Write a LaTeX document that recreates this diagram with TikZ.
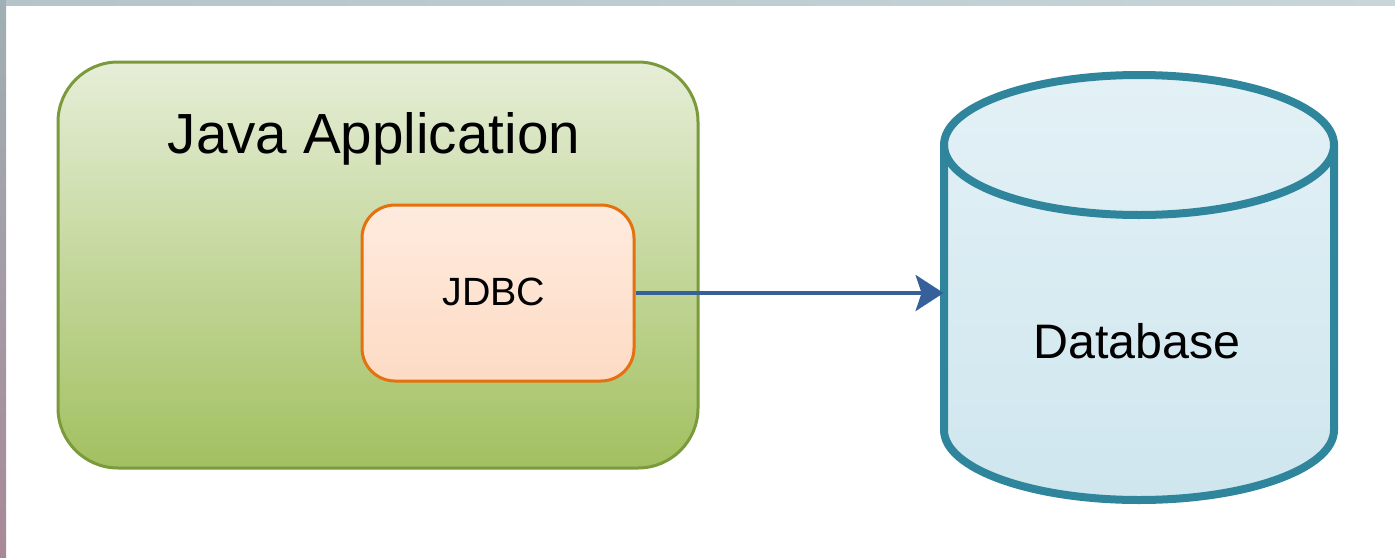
\documentclass[tikz,border=0pt]{standalone}
\usepackage{fontspec}
\setmainfont{Liberation Sans}
\usetikzlibrary{arrows.meta}
\definecolor{appborder}{HTML}{7A9A3C}
\definecolor{apptop}{HTML}{E6EED8}
\definecolor{appbot}{HTML}{A2C060}
\definecolor{jdbcborder}{HTML}{E4700E}
\definecolor{jdbctop}{HTML}{FEEBDE}
\definecolor{jdbcbot}{HTML}{FDDBC4}
\definecolor{dbborder}{HTML}{2F869C}
\definecolor{dbtop}{HTML}{E3F1F6}
\definecolor{dbbot}{HTML}{CFE6EE}
\definecolor{arrowcol}{HTML}{36609A}
\definecolor{frameA}{HTML}{B4C4C8}
\definecolor{frameB}{HTML}{C8D6DA}
\definecolor{frameC}{HTML}{A0B0B4}
\definecolor{frameD}{HTML}{A88898}
\tikzset{
  appbox/.style={rounded corners=30pt, draw=appborder, line width=1.5pt,
    top color=apptop, bottom color=appbot, minimum width=320pt, minimum height=203pt, inner sep=0pt},
  jdbcbox/.style={rounded corners=16.5pt, draw=jdbcborder, line width=1.5pt,
    top color=jdbctop, bottom color=jdbcbot, minimum width=136pt, minimum height=88pt, inner sep=0pt},
  lbl/.style={inner sep=0pt, anchor=base, text=black},
  conn/.style={draw=arrowcol, line width=2pt, -{Stealth[length=14pt,width=18pt,inset=3pt]}},
  dbline/.style={draw=dbborder, line width=4pt},
}
\begin{document}
\begin{tikzpicture}[x=0.5pt,y=-0.5pt]
\useasboundingbox (0,0) rectangle (1395,557);
% frame strips
\shade[left color=frameA, right color=frameB] (0,0) rectangle (1395,5);
\shade[top color=frameC, bottom color=frameD] (0,0) rectangle (6,557);
% Java application
\node[appbox] (app) at (378,265) {};
\node[lbl, font=\fontsize{28.3pt}{34pt}\selectfont] (apptitle) at (374,153) {Java Application};
% JDBC
\node[jdbcbox] (jdbc) at (498,293) {};
\node[lbl, font=\fontsize{19.7pt}{24pt}\selectfont] (jdbclabel) at (494,305) {JDBC};
% Database cylinder
\node[minimum width=195pt, minimum height=212.5pt, inner sep=0pt] (db) at (1139,287.5) {};
\shade[top color=dbtop, bottom color=dbbot]
  (944,145) -- (944,430) arc[start angle=180,end angle=360,x radius=97.5pt,y radius=35pt]
  -- (1334,145) arc[start angle=0,end angle=180,x radius=97.5pt,y radius=35pt] -- cycle;
\draw[dbline, line join=round]
  (944,145) -- (944,430) arc[start angle=180,end angle=360,x radius=97.5pt,y radius=35pt]
  -- (1334,145);
\draw[dbline] (1139,145) ellipse[x radius=97.5pt, y radius=35pt];
\node[lbl, font=\fontsize{24.2pt}{29pt}\selectfont] (dblabel) at (1137,358) {Database};
% connector
\draw[conn] (jdbc.east) -- (jdbc.east -| db.west);
\end{tikzpicture}
\end{document}
